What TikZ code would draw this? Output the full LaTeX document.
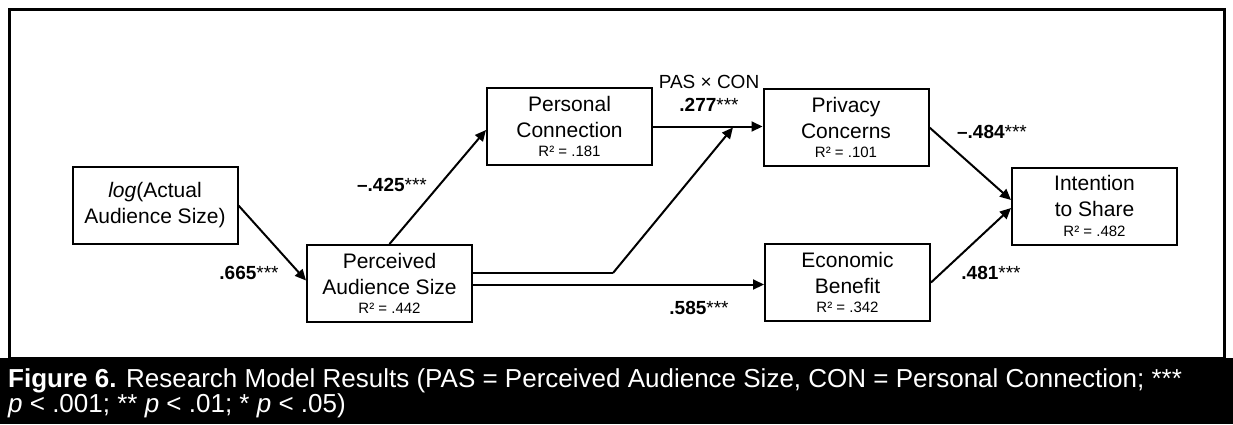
\documentclass[tikz,border=0pt]{standalone}
\usepackage{fontspec}
\setmainfont{Liberation Sans}
\usetikzlibrary{arrows.meta,calc}
\begin{document}
\begin{tikzpicture}[x=1pt,y=-1pt,
  box/.style={draw,line width=2pt,minimum width=165pt,minimum height=77pt,inner sep=0pt,align=center,font=\fontsize{21}{26}\selectfont},
  coef/.style={font=\fontsize{19}{22}\selectfont,inner sep=0pt},
  link/.style={line width=2pt,-{Triangle[length=11pt,width=10pt]}},
  plain/.style={line width=2pt},
  capt/.style={text=white,font=\fontsize{26}{26}\selectfont,inner sep=0pt,anchor=base west},
]
\useasboundingbox (0,0) rectangle (1233,424);
\draw[line width=3pt] (9.5,9.5) rectangle (1224,358);
\fill[black] (0,358) rectangle (1233,424);

% boxes
\node[box] (log) at (155,205.5) {\textit{log}(Actual\\Audience Size)};
\node[box] (pas) at (389.5,283.5) {Perceived\\Audience Size\\[-6.5pt]{\fontsize{15}{15}\selectfont R² = .442}};
\node[box] (pc) at (569.5,126.5) {Personal\\Connection\\[-6.5pt]{\fontsize{15}{15}\selectfont R² = .181}};
\node[box] (priv) at (846,127.5) {Privacy\\Concerns\\[-6.5pt]{\fontsize{15}{15}\selectfont R² = .101}};
\node[box] (eb) at (847.5,282.5) {Economic\\Benefit\\[-6.5pt]{\fontsize{15}{15}\selectfont R² = .342}};
\node[box] (it) at (1094.5,206) {Intention\\to Share\\[-6.5pt]{\fontsize{15}{15}\selectfont R² = .482}};

% connectors
\draw[link] (log.east) -- ([yshift=3pt]pas.west);
\draw[link] (pas.north) -- ([yshift=-3.5pt]pc.west);
\draw[link] (pc.east) -- (pc.east -| priv.west);
\coordinate (mod) at ($(pc.east)!0.73!(pc.east -| priv.west)$);
\draw[plain] ([yshift=10.5pt]pas.east) -- ++(140,0) coordinate (bend);
\draw[link] (bend) -- ([yshift=-1pt]mod);
\draw[link] ([yshift=-1pt]pas.east) -- ([yshift=-1pt]pas.east -| eb.west);
\draw[link] (priv.east) -- ([yshift=6pt]it.west);
\draw[link] (eb.east) -- ([yshift=-2pt]it.west);

% coefficients
\node[coef] (pasxcon) at (709,82) {PAS × CON};
\node[coef] (c277) at (709,105) {\textbf{.277}***};
\node[coef] (c425) at (392,185) {\textbf{\textendash.425}***};
\node[coef] (c665) at (249,273) {\textbf{.665}***};
\node[coef] (c484) at (992,132) {\textbf{\textendash.484}***};
\node[coef] (c481) at (991,273) {\textbf{.481}***};
\node[coef] (c585) at (699,308) {\textbf{.585}***};

% caption
\node[capt] (cap1) at (8,387) {\textbf{Figure 6.} Research Model Results (PAS = Perceived Audience Size, CON = Personal Connection; ***};
\node[capt] (cap2) at (8,412) {\textit{p} < .001; ** \textit{p} < .01; * \textit{p} < .05)};
\end{tikzpicture}
\end{document}
